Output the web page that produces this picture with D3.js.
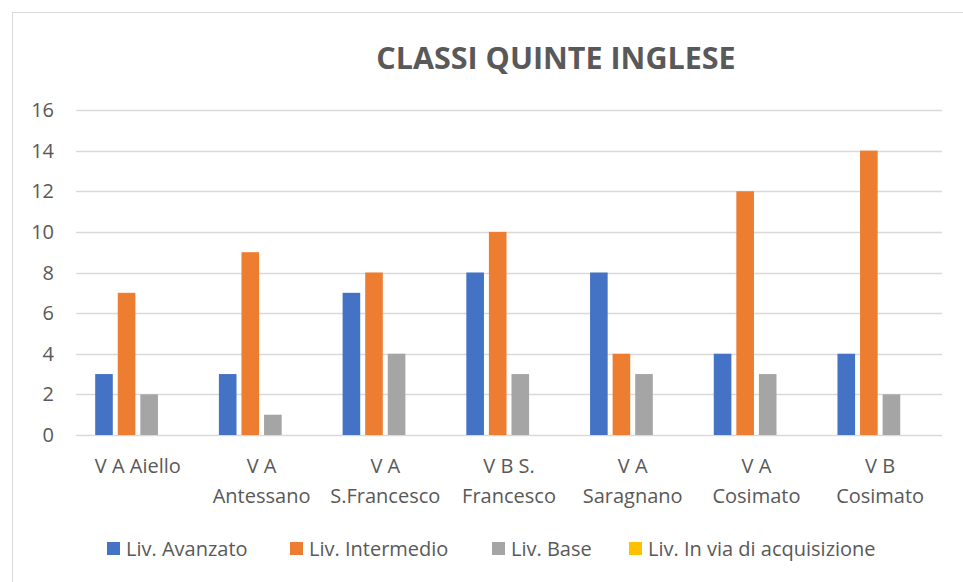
<!DOCTYPE html>
<html>
<head>
<meta charset="utf-8">
<script src="https://cdn.jsdelivr.net/npm/d3@7"></script>
<style>
  body { margin: 0; background: #fff; }
  svg { display: block; font-family: "Open Sans", "Noto Sans", sans-serif; }
</style>
</head>
<body>
<svg width="963" height="582"></svg>
<script>
// chart data
var categories = ["V A Aiello", "V A Antessano", "V A S.Francesco", "V B S. Francesco",
                  "V A Saragnano", "V A Cosimato", "V B Cosimato"];
// how the category labels wrap on the axis
var categoryLines = [["V A Aiello"], ["V A", "Antessano"], ["V A", "S.Francesco"],
                     ["V B S.", "Francesco"], ["V A", "Saragnano"], ["V A", "Cosimato"],
                     ["V B", "Cosimato"]];
var seriesNames = ["Liv. Avanzato", "Liv. Intermedio", "Liv. Base", "Liv. In via di acquisizione"];
var avanzato    = [3, 3, 7, 8, 8, 4, 4];
var intermedio  = [7, 9, 8, 10, 4, 12, 14];
var base        = [2, 1, 4, 3, 3, 3, 2];
var acquisizione = [0, 0, 0, 0, 0, 0, 0];
var yTicks = [0, 2, 4, 6, 8, 10, 12, 14, 16];

var seriesValues = [avanzato, intermedio, base, acquisizione];
var colors = ["#4472C4", "#ED7D31", "#A5A5A5", "#FFC000"];

var svg = d3.select("svg");
var textColor = "#595959";
var labelSize = "20px";

// chart frame
svg.append("rect")
    .attr("x", 12.5).attr("y", 12.5)
    .attr("width", 1000).attr("height", 1000)
    .attr("fill", "none")
    .attr("stroke", "#d9d9d9");

var plotLeft = 76, plotRight = 942, plotTop = 110, plotBottom = 435;

var x = d3.scaleBand().domain(categories).range([plotLeft, plotRight]);
var x1 = d3.scaleBand().domain(seriesNames).range([0, x.bandwidth()])
    .paddingInner(0.22).paddingOuter(0.85);
var y = d3.scaleLinear().domain([0, 16]).range([plotBottom, plotTop]);

// gridlines
svg.append("g").selectAll("line")
    .data(yTicks)
    .enter().append("line")
    .attr("x1", plotLeft).attr("x2", plotRight)
    .attr("y1", function(d) { return Math.round(y(d)) + 0.5; })
    .attr("y2", function(d) { return Math.round(y(d)) + 0.5; })
    .attr("stroke", "#d9d9d9")
    .attr("stroke-width", 1.3);

// y axis labels
svg.append("g").selectAll("text")
    .data(yTicks)
    .enter().append("text")
    .attr("x", 54)
    .attr("y", function(d) { return y(d); })
    .attr("dy", "0.35em")
    .attr("text-anchor", "end")
    .attr("fill", textColor)
    .style("font-size", labelSize)
    .text(function(d) { return d; });

// bars
var groups = svg.append("g").selectAll("g")
    .data(categories)
    .enter().append("g")
    .attr("transform", function(d) { return "translate(" + x(d) + ",0)"; });

groups.selectAll("rect")
    .data(function(d, i) {
      return seriesNames.map(function(s, j) { return {series: s, value: seriesValues[j][i], color: colors[j]}; });
    })
    .enter().append("rect")
    .attr("x", function(d) { return x1(d.series); })
    .attr("width", x1.bandwidth())
    .attr("y", function(d) { return y(d.value); })
    .attr("height", function(d) { return y(0) - y(d.value); })
    .attr("fill", function(d) { return d.color; });

// category labels
var catLabels = svg.append("g").selectAll("text")
    .data(categories)
    .enter().append("text")
    .attr("x", function(d) { return x(d) + x.bandwidth() / 2; })
    .attr("y", 473)
    .attr("text-anchor", "middle")
    .attr("fill", textColor)
    .style("font-size", labelSize);

catLabels.selectAll("tspan")
    .data(function(d, i) { return categoryLines[i]; })
    .enter().append("tspan")
    .attr("x", function() { return d3.select(this.parentNode).attr("x"); })
    .attr("dy", function(d, i) { return i === 0 ? 0 : 30; })
    .text(function(d) { return d; });

// title
svg.append("text")
    .attr("x", 556)
    .attr("y", 69)
    .attr("text-anchor", "middle")
    .attr("fill", textColor)
    .style("font-size", "30.5px")
    .style("font-weight", "bold")
    .text("CLASSI QUINTE INGLESE");

// legend
var legendX = [107, 290, 492, 629];
var legend = svg.append("g").selectAll("g")
    .data(seriesNames)
    .enter().append("g")
    .attr("transform", function(d, i) { return "translate(" + legendX[i] + ",542)"; });

legend.append("rect")
    .attr("width", 13).attr("height", 13)
    .attr("fill", function(d, i) { return colors[i]; });

legend.append("text")
    .attr("x", 19)
    .attr("y", 7)
    .attr("dy", "0.35em")
    .attr("fill", textColor)
    .style("font-size", labelSize)
    .text(function(d) { return d; });
</script>
</body>
</html>
